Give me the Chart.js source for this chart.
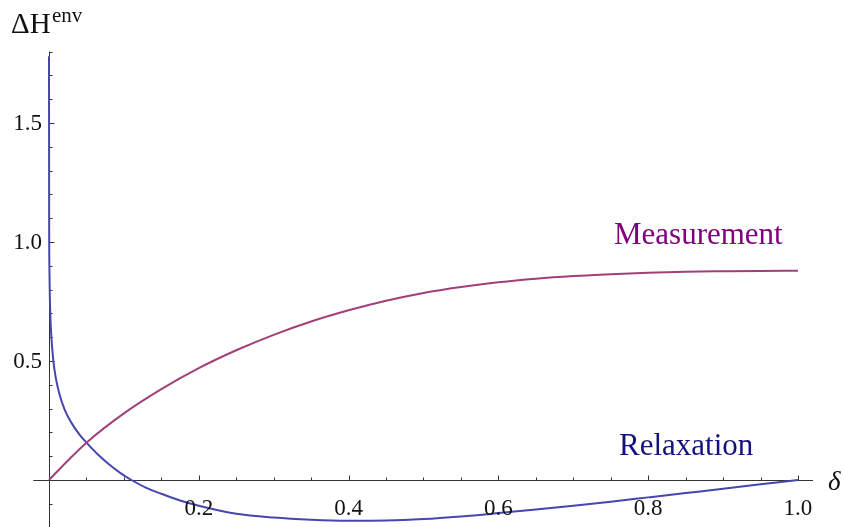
<!DOCTYPE html>
<html>
<head>
<meta charset="utf-8">
<script src="https://cdn.jsdelivr.net/npm/chart.js@4/dist/chart.umd.min.js"></script>
<style>
  html, body { margin: 0; padding: 0; background: #fff; }
  canvas { display: block; }
</style>
</head>
<body>
<canvas id="plot" width="843" height="527"></canvas>
<script>
// delta values and curves
const relaxDelta = [0, 0.0002, 0.0006, 0.0015, 0.003, 0.0055, 0.009, 0.014, 0.021, 0.03, 0.04, 0.05, 0.065, 0.08, 0.095, 0.11,
  0.13, 0.15, 0.175, 0.2, 0.25, 0.3, 0.35, 0.4, 0.45, 0.5, 0.55, 0.6, 0.65, 0.7, 0.75, 0.8, 0.85, 0.9, 0.95, 1.0];
const relaxValues = [1.78, 1.1, 0.88, 0.72, 0.61, 0.51, 0.43, 0.36, 0.295, 0.24, 0.194, 0.157, 0.108, 0.066, 0.03, 0,
  -0.033, -0.058, -0.086, -0.108, -0.142, -0.158, -0.167, -0.171, -0.17, -0.164, -0.153, -0.139, -0.124, -0.108, -0.091, -0.073, -0.055, -0.037, -0.018, 0];

const measDelta = [0, 0.025, 0.05, 0.1, 0.15, 0.2, 0.25, 0.3, 0.35, 0.4, 0.45, 0.5, 0.55, 0.6, 0.65, 0.7, 0.75, 0.8, 0.85, 0.9, 0.95, 1.0];
const measValues = [0, 0.081, 0.157, 0.28, 0.382, 0.47, 0.545, 0.61, 0.666, 0.713, 0.753, 0.786, 0.811, 0.831, 0.846, 0.857, 0.865, 0.871, 0.875, 0.877, 0.8785, 0.879];

const xTickLabels = ['0.2', '0.4', '0.6', '0.8', '1.0'];
const yTickLabels = ['0.5', '1.0', '1.5'];

const SERIF = '"Liberation Serif", "Times New Roman", "DejaVu Serif", serif';

const pts = (xs, ys) => xs.map((x, i) => ({ x: x, y: ys[i] }));

// Mathematica-style axes through the origin
const axesPlugin = {
  id: 'originAxes',
  beforeDatasetsDraw(chart) {
    const ctx = chart.ctx;
    const sx = chart.scales.x, sy = chart.scales.y;
    const x0 = Math.round(sx.getPixelForValue(0)) + 0.5;
    const y0 = Math.round(sy.getPixelForValue(0)) + 0.5;
    ctx.save();
    ctx.strokeStyle = '#333';
    ctx.lineWidth = 1;
    ctx.beginPath();
    ctx.moveTo(sx.getPixelForValue(-0.021), y0);
    ctx.lineTo(sx.getPixelForValue(1.02), y0);
    ctx.moveTo(x0, sy.getPixelForValue(1.8));
    ctx.lineTo(x0, chart.height);
    // x ticks every 0.05, major every 0.2
    for (let i = 1; i <= 20; i++) {
      const px = Math.round(sx.getPixelForValue(i * 0.05)) + 0.5;
      const len = i % 4 === 0 ? 5 : 3;
      ctx.moveTo(px, y0);
      ctx.lineTo(px, y0 - len);
    }
    // y ticks every 0.1, major every 0.5
    for (let i = -1; i <= 18; i++) {
      if (i === 0) continue;
      const py = Math.round(sy.getPixelForValue(i * 0.1)) + 0.5;
      const len = i % 5 === 0 ? 5 : 3;
      ctx.moveTo(x0, py);
      ctx.lineTo(x0 + len, py);
    }
    ctx.stroke();
    ctx.restore();
  },
  afterDatasetsDraw(chart) {
    const ctx = chart.ctx;
    const sx = chart.scales.x, sy = chart.scales.y;
    const x0 = sx.getPixelForValue(0);
    const y0 = sy.getPixelForValue(0);
    ctx.save();
    ctx.fillStyle = '#111';
    ctx.font = '23px ' + SERIF;
    ctx.textAlign = 'center';
    ctx.textBaseline = 'alphabetic';
    xTickLabels.forEach(t => {
      ctx.fillText(t, sx.getPixelForValue(parseFloat(t)), y0 + 35);
    });
    ctx.textAlign = 'right';
    ctx.textBaseline = 'middle';
    yTickLabels.forEach(t => {
      ctx.fillText(t, x0 - 7, sy.getPixelForValue(parseFloat(t)) + 1);
    });

    // axis labels
    ctx.textBaseline = 'alphabetic';
    ctx.textAlign = 'left';
    ctx.font = '29px ' + SERIF;
    ctx.fillText('\u0394H', 11, 33);
    ctx.font = '21px ' + SERIF;
    ctx.fillText('env', 52, 22);
    ctx.font = 'italic 27px ' + SERIF;
    ctx.fillText('\u03b4', 828, 490);

    // curve labels
    ctx.font = '31px ' + SERIF;
    ctx.fillStyle = '#800080';
    ctx.fillText('Measurement', 614, 244);
    ctx.fillStyle = '#12127f';
    ctx.fillText('Relaxation', 619, 455);
    ctx.restore();
  }
};

new Chart(document.getElementById('plot'), {
  type: 'line',
  data: {
    datasets: [
      {
        label: 'Measurement',
        data: pts(measDelta, measValues),
        borderColor: '#a23f78',
        borderWidth: 2,
        pointRadius: 0,
        cubicInterpolationMode: 'monotone',
        fill: false
      },
      {
        label: 'Relaxation',
        data: pts(relaxDelta, relaxValues),
        borderColor: '#4646b0',
        borderWidth: 2,
        pointRadius: 0,
        cubicInterpolationMode: 'monotone',
        fill: false
      }
    ]
  },
  options: {
    responsive: false,
    animation: false,
    devicePixelRatio: 1,
    layout: { padding: 0 },
    plugins: {
      legend: { display: false },
      tooltip: { enabled: false }
    },
    scales: {
      x: { type: 'linear', min: -0.06542, max: 1.0601, display: false },
      y: { type: 'linear', min: -0.1975, max: 2.0168, display: false }
    }
  },
  plugins: [axesPlugin]
});
</script>
</body>
</html>
